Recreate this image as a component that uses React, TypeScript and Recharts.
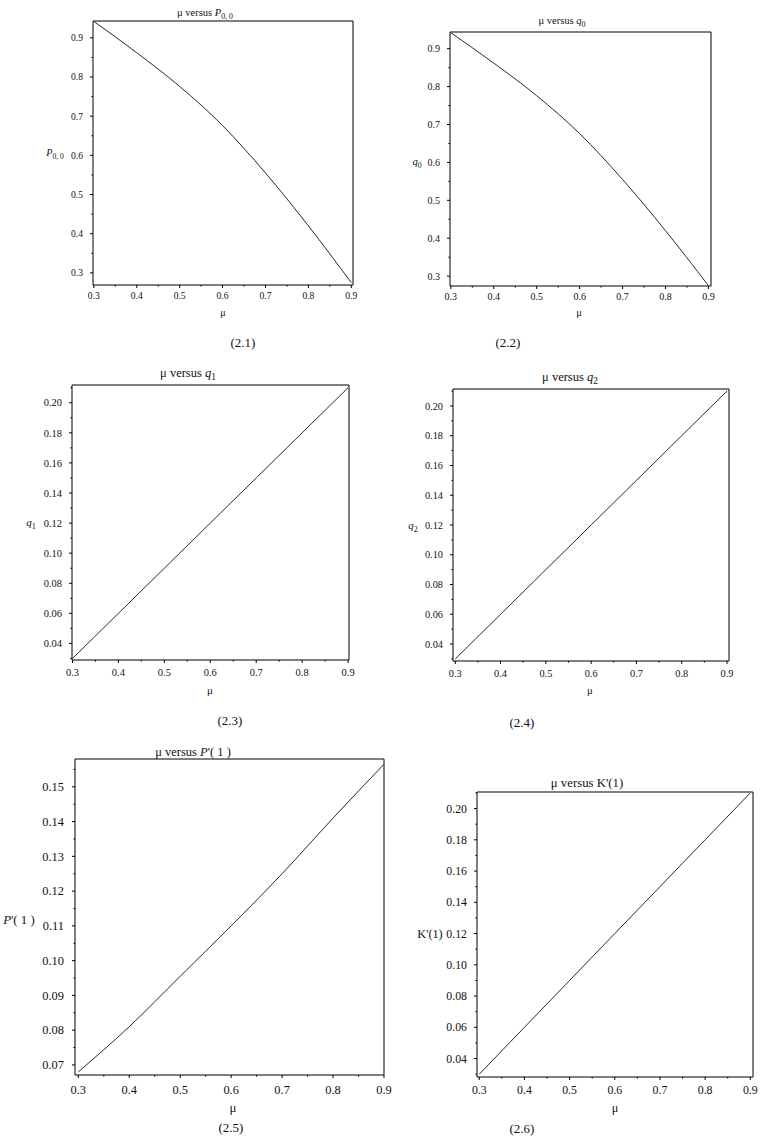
import React from 'react';
import { LineChart, Line, XAxis, YAxis, ReferenceArea } from 'recharts';

// ---------- data ----------
const muValues = [0.3, 0.4, 0.5, 0.6, 0.7, 0.8, 0.9];
const p00Values = [0.942, 0.862, 0.776, 0.676, 0.555, 0.42, 0.275];
const q0Values = [0.942, 0.862, 0.776, 0.676, 0.555, 0.42, 0.275];
const q1Values = [0.03, 0.06, 0.09, 0.12, 0.15, 0.18, 0.21];
const q2Values = [0.03, 0.06, 0.09, 0.12, 0.15, 0.18, 0.21];
const pPrimeValues = [0.068, 0.081, 0.0955, 0.11, 0.125, 0.141, 0.1565];
const kPrimeValues = [0.03, 0.06, 0.09, 0.12, 0.15, 0.18, 0.21];

// ---------- tick labels ----------
const xMajorTicks = [0.3, 0.4, 0.5, 0.6, 0.7, 0.8, 0.9];
const xMinorTicks = [0.35, 0.45, 0.55, 0.65, 0.75, 0.85];
const yMajorProb = [0.3, 0.4, 0.5, 0.6, 0.7, 0.8, 0.9];
const yMinorProb = [0.35, 0.45, 0.55, 0.65, 0.75, 0.85];
const yMajorQ = [0.04, 0.06, 0.08, 0.1, 0.12, 0.14, 0.16, 0.18, 0.2];
const yMinorQ = [0.03, 0.05, 0.07, 0.09, 0.11, 0.13, 0.15, 0.17, 0.19, 0.21];
const yMajorPP = [0.07, 0.08, 0.09, 0.1, 0.11, 0.12, 0.13, 0.14, 0.15];
const yMinorPP = [0.075, 0.085, 0.095, 0.105, 0.115, 0.125, 0.135, 0.145, 0.155];

const SERIF = '"Liberation Serif", "Times New Roman", serif';

const isIn = (arr: number[], v: number) => arr.some((m) => Math.abs(m - v) < 1e-9);

const makeYTick = (majors: number[], decimals: number, fontSize: number, gap: number) => (props: any) => {
  const { x, y, payload } = props;
  const v = payload.value;
  const major = isIn(majors, v);
  return (
    <g>
      <line x1={x} x2={x - (major ? 3 : 1.6)} y1={y} y2={y} stroke="#000" strokeWidth={1} />
      {major && (
        <text x={x - gap} y={y} dy="0.35em" textAnchor="end" fontSize={fontSize} fontFamily={SERIF} fill="#111">
          {v.toFixed(decimals)}
        </text>
      )}
    </g>
  );
};

const makeXTick = (majors: number[], fontSize: number, offset: number) => (props: any) => {
  const { x, y, payload } = props;
  const v = payload.value;
  const major = isIn(majors, v);
  return (
    <g>
      <line x1={x} x2={x} y1={y} y2={y + (major ? 3 : 1.6)} stroke="#000" strokeWidth={1} />
      {major && (
        <text x={x} y={y + offset} dy="0.71em" textAnchor="middle" fontSize={fontSize} fontFamily={SERIF} fill="#111">
          {v.toFixed(1)}
        </text>
      )}
    </g>
  );
};

const Sub = ({ children }: { children: React.ReactNode }) => (
  <span style={{ fontSize: '0.75em', position: 'relative', top: '0.35em', color: '#111' }}>{children}</span>
);

type Panel = {
  values: number[];
  curve: 'linear' | 'monotone';
  box: { l: number; t: number; r: number; b: number };
  xDomain: [number, number];
  yDomain: [number, number];
  yMajor: number[];
  yMinor: number[];
  yDecimals: number;
  tickFont: number;
  xOffset: number;
  yGap: number;
  title: React.ReactNode;
  titlePos: [number, number];
  titleFont: number;
  yLabel: React.ReactNode;
  yLabelPos: [number, number];
  xLabelPos: [number, number];
  caption: string;
  captionPos: [number, number];
};

const panels: Panel[] = [
  {
    values: p00Values,
    curve: 'monotone',
    box: { l: 93, t: 21, r: 353, b: 285 },
    xDomain: [0.298, 0.904],
    yDomain: [0.269, 0.943],
    yMajor: yMajorProb,
    yMinor: yMinorProb,
    yDecimals: 1,
    tickFont: 9.6,
    xOffset: 7,
    yGap: 10,
    title: (<span>μ versus <i>P</i><Sub>0, 0</Sub></span>),
    titlePos: [205, 13],
    titleFont: 10.5,
    yLabel: (<span><i>P</i><Sub>0, 0</Sub></span>),
    yLabelPos: [55, 153],
    xLabelPos: [223, 313],
    caption: '(2.1)',
    captionPos: [243, 342],
  },
  {
    values: q0Values,
    curve: 'monotone',
    box: { l: 450, t: 32, r: 711, b: 286 },
    xDomain: [0.298, 0.906],
    yDomain: [0.274, 0.944],
    yMajor: yMajorProb,
    yMinor: yMinorProb,
    yDecimals: 1,
    tickFont: 10,
    xOffset: 7,
    yGap: 10,
    title: (<span>μ versus <i>q</i><Sub>0</Sub></span>),
    titlePos: [562, 21],
    titleFont: 10.5,
    yLabel: (<span><i>q</i><Sub>0</Sub></span>),
    yLabelPos: [417, 162],
    xLabelPos: [579, 313],
    caption: '(2.2)',
    captionPos: [508, 342],
  },
  {
    values: q1Values,
    curve: 'linear',
    box: { l: 72, t: 385, r: 349, b: 660 },
    xDomain: [0.299, 0.902],
    yDomain: [0.029, 0.2118],
    yMajor: yMajorQ,
    yMinor: yMinorQ,
    yDecimals: 2,
    tickFont: 10.5,
    xOffset: 9,
    yGap: 10,
    title: (<span>μ versus <i>q</i><Sub>1</Sub></span>),
    titlePos: [188, 373],
    titleFont: 12.5,
    yLabel: (<span><i>q</i><Sub>1</Sub></span>),
    yLabelPos: [31, 523],
    xLabelPos: [210, 690],
    caption: '(2.3)',
    captionPos: [230, 720],
  },
  {
    values: q2Values,
    curve: 'linear',
    box: { l: 453, t: 389, r: 729, b: 661 },
    xDomain: [0.295, 0.9044],
    yDomain: [0.0286, 0.2114],
    yMajor: yMajorQ,
    yMinor: yMinorQ,
    yDecimals: 2,
    tickFont: 10.3,
    xOffset: 8.5,
    yGap: 10,
    title: (<span>μ versus <i>q</i><Sub>2</Sub></span>),
    titlePos: [570, 377],
    titleFont: 12.5,
    yLabel: (<span><i>q</i><Sub>2</Sub></span>),
    yLabelPos: [413, 526],
    xLabelPos: [590, 690],
    caption: '(2.4)',
    captionPos: [522, 722],
  },
  {
    values: pPrimeValues,
    curve: 'monotone',
    box: { l: 75, t: 759, r: 384, b: 1075 },
    xDomain: [0.2935, 0.9],
    yDomain: [0.0671, 0.158],
    yMajor: yMajorPP,
    yMinor: yMinorPP,
    yDecimals: 2,
    tickFont: 12.4,
    xOffset: 10,
    yGap: 11,
    title: (<span>μ versus <i>P</i>'( 1 )</span>),
    titlePos: [193, 752],
    titleFont: 12.5,
    yLabel: (<span><i>P</i>'( 1 )</span>),
    yLabelPos: [19, 920],
    xLabelPos: [233, 1108],
    caption: '(2.5)',
    captionPos: [231, 1127],
  },
  {
    values: kPrimeValues,
    curve: 'linear',
    box: { l: 477, t: 792, r: 753, b: 1077 },
    xDomain: [0.295, 0.906],
    yDomain: [0.0282, 0.2106],
    yMajor: yMajorQ,
    yMinor: yMinorQ,
    yDecimals: 2,
    tickFont: 11.8,
    xOffset: 9,
    yGap: 10,
    title: (<span>μ versus K'(1)</span>),
    titlePos: [587, 783],
    titleFont: 12.8,
    yLabel: (<span>K'(1)</span>),
    yLabelPos: [430, 934],
    xLabelPos: [615, 1108],
    caption: '(2.6)',
    captionPos: [522, 1128],
  },
];

const Label = ({ pos, size, children }: { pos: [number, number]; size: number; children: React.ReactNode }) => (
  <div
    style={{
      position: 'absolute',
      left: pos[0],
      top: pos[1],
      transform: 'translate(-50%, -50%)',
      fontSize: size,
      lineHeight: 1,
      whiteSpace: 'nowrap',
      fontFamily: SERIF,
      color: '#111',
    }}
  >
    {children}
  </div>
);

const PAD_L = 60;
const PAD_T = 10;
const PAD_R = 10;
const PAD_B = 40;

const PanelChart = ({ p }: { p: Panel }) => {
  const data = muValues.map((m, i) => ({ mu: m, v: p.values[i] }));
  const w = p.box.r - p.box.l + PAD_L + PAD_R;
  const h = p.box.b - p.box.t + PAD_T + PAD_B;
  const xTicks = [...xMajorTicks, ...xMinorTicks].sort((a, b) => a - b);
  const yTicks = [...p.yMajor, ...p.yMinor].sort((a, b) => a - b);
  return (
    <>
      <div style={{ position: 'absolute', left: p.box.l - PAD_L, top: p.box.t - PAD_T }}>
        <LineChart width={w} height={h} data={data} margin={{ top: PAD_T, right: PAD_R, left: 0, bottom: 0 }}>
          <XAxis
            dataKey="mu"
            type="number"
            domain={p.xDomain}
            allowDataOverflow
            ticks={xTicks}
            interval={0}
            height={PAD_B}
            tickSize={0}
            tickMargin={0}
            tickLine={false}
            axisLine={false}
            tick={makeXTick(xMajorTicks, p.tickFont, p.xOffset)}
          />
          <YAxis
            type="number"
            domain={p.yDomain}
            allowDataOverflow
            ticks={yTicks}
            interval={0}
            width={PAD_L}
            tickSize={0}
            tickMargin={0}
            tickLine={false}
            axisLine={false}
            tick={makeYTick(p.yMajor, p.yDecimals, p.tickFont, p.yGap)}
          />
          <ReferenceArea
            x1={p.xDomain[0]}
            x2={p.xDomain[1]}
            y1={p.yDomain[0]}
            y2={p.yDomain[1]}
            fill="none"
            fillOpacity={0}
            stroke="#000"
            strokeWidth={1}
            ifOverflow="visible"
          />
          <Line
            type={p.curve}
            dataKey="v"
            stroke="#2a2a2a"
            strokeWidth={1}
            dot={false}
            isAnimationActive={false}
          />
        </LineChart>
      </div>
      <Label pos={p.titlePos} size={p.titleFont}>{p.title}</Label>
      <Label pos={p.yLabelPos} size={p.tickFont + 0.5}>{p.yLabel}</Label>
      <Label pos={p.xLabelPos} size={p.tickFont + 0.5}>μ</Label>
      <Label pos={p.captionPos} size={13}>{p.caption}</Label>
    </>
  );
};

export default function App() {
  return (
    <div
      style={{
        position: 'absolute',
        left: 0,
        top: 0,
        width: 767,
        height: 1137,
        background: '#fff',
        overflow: 'hidden',
        fontFamily: SERIF,
      }}
    >
      {panels.map((p, i) => (
        <PanelChart key={i} p={p} />
      ))}
    </div>
  );
}
